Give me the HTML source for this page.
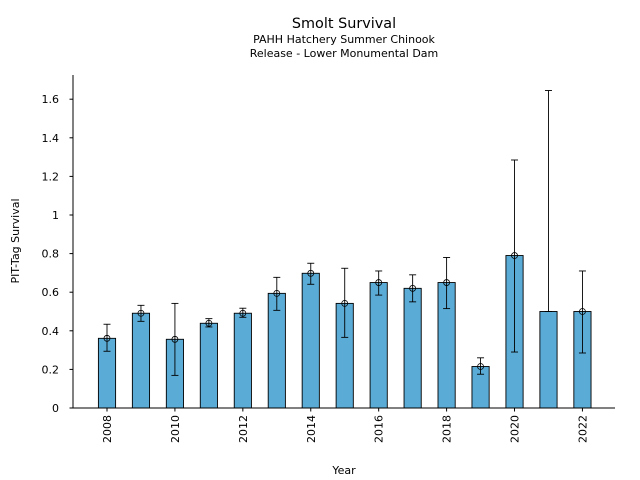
<!DOCTYPE html>
<html><head><meta charset="utf-8"><style>
body{margin:0;background:#fff;}
svg{display:block;font-family:"DejaVu Sans","Liberation Sans",sans-serif;}
</style></head><body>
<svg id="s" width="640" height="480" xmlns="http://www.w3.org/2000/svg">
<text x="344" y="28" font-size="14.4" text-anchor="middle">Smolt Survival</text>
<text x="344" y="43" font-size="11" text-anchor="middle">PAHH Hatchery Summer Chinook</text>
<text x="344" y="57" font-size="11" text-anchor="middle">Release - Lower Monumental Dam</text>
<text x="344" y="474" font-size="11" text-anchor="middle">Year</text>
<text transform="translate(19,241) rotate(-90)" font-size="11" text-anchor="middle">PIT-Tag Survival</text>
<g id="g"></g>
<line x1="73" y1="75" x2="73" y2="408.5" stroke="#000" stroke-width="1"/>
<line x1="72.5" y1="408" x2="615" y2="408" stroke="#000" stroke-width="1"/>
</svg>
<script>
var g=document.getElementById('g'),h='';
function Y(v){return 408-v*193;}
var yt=[0,0.2,0.4,0.6,0.8,1,1.2,1.4,1.6],yl=['0','0.2','0.4','0.6','0.8','1','1.2','1.4','1.6'];
yt.forEach(function(v,i){var y=Y(v);h+='<line x1="69.5" x2="73" y1="'+y+'" y2="'+y+'" stroke="#000"/>';
h+='<text x="59" y="'+(y+4)+'" font-size="11" text-anchor="end">'+yl[i]+'</text>';});
var d=[[0.361,0.434,0.294],[0.491,0.532,0.449],[0.356,0.542,0.169],[0.439,0.463,0.42],[0.491,0.517,0.47],
[0.594,0.677,0.506],[0.698,0.75,0.641],[0.542,0.724,0.366],[0.65,0.71,0.585],[0.62,0.69,0.55],
[0.65,0.78,0.515],[0.215,0.26,0.175],[0.79,1.285,0.29],[0.5,1.645,0.5],[0.5,0.71,0.285]];
d.forEach(function(r,i){var cx=107+i*33.96;var t=Y(r[0]);
h+='<rect x="'+(cx-8.6)+'" y="'+t+'" width="17.2" height="'+(408-t)+'" fill="#5aabd6" stroke="#000" stroke-width="0.9"/>';
var a=Y(r[1]),b=Y(r[2]);
h+='<line x1="'+cx+'" x2="'+cx+'" y1="'+a+'" y2="'+b+'" stroke="#000" stroke-width="0.9"/>';
h+='<line x1="'+(cx-3.5)+'" x2="'+(cx+3.5)+'" y1="'+a+'" y2="'+a+'" stroke="#000" stroke-width="0.9"/>';
h+='<line x1="'+(cx-3.5)+'" x2="'+(cx+3.5)+'" y1="'+b+'" y2="'+b+'" stroke="#000" stroke-width="0.9"/>';
if(i!=13)h+='<circle cx="'+cx+'" cy="'+t+'" r="3" fill="none" stroke="#000" stroke-width="0.8"/>';
if(i%2==0){h+='<line x1="'+cx+'" x2="'+cx+'" y1="408" y2="411.5" stroke="#000"/>';
h+='<text transform="translate('+(cx+4)+',429) rotate(-90)" font-size="11" text-anchor="middle">'+(2008+i)+'</text>';}
});
g.innerHTML=h;
</script>
</body></html>
